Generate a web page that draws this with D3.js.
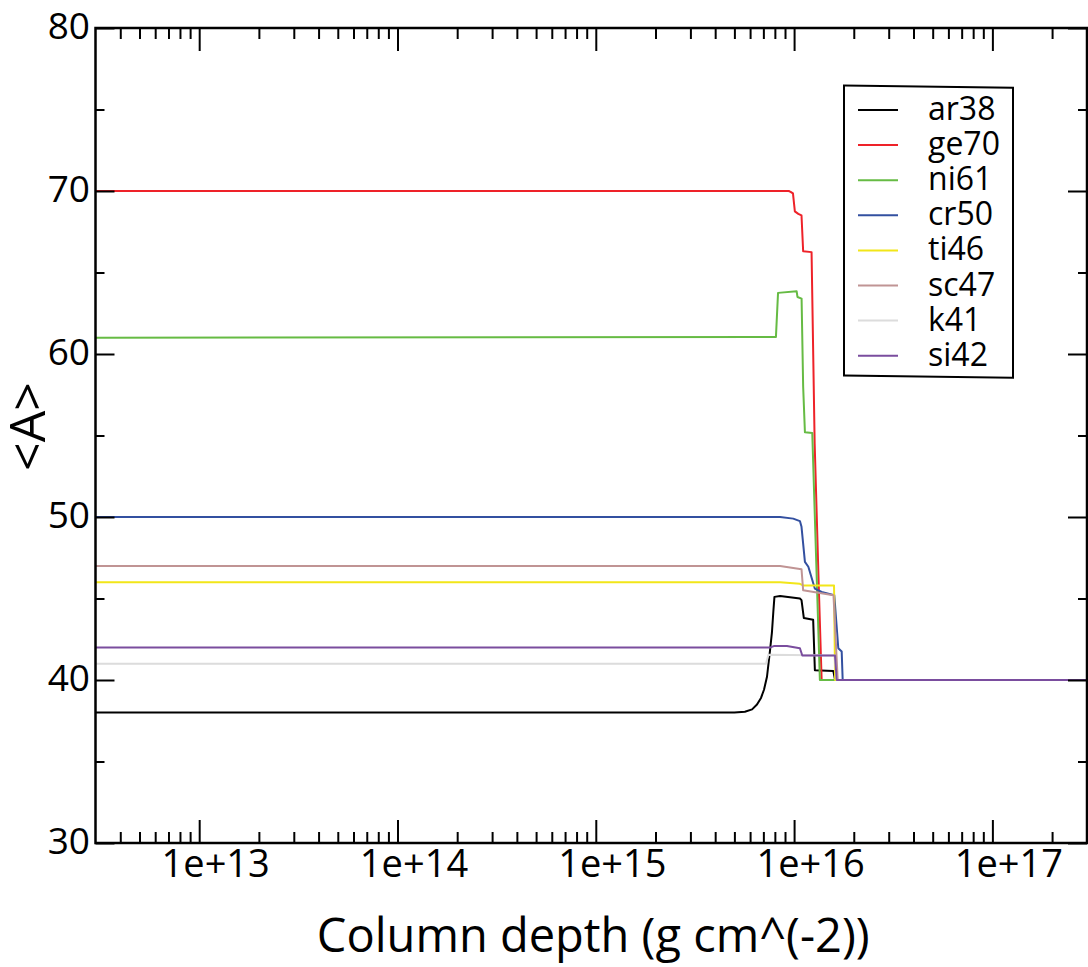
<!DOCTYPE html>
<html>
<head>
<meta charset="utf-8">
<script src="https://cdn.jsdelivr.net/npm/d3@7"></script>
<style>
  html, body { margin: 0; padding: 0; background: #fff; }
  svg { display: block; font-family: "Open Sans", "Noto Sans", sans-serif; }
</style>
</head>
<body>
<svg id="chart" width="1088" height="967"></svg>
<script>
// Mean mass number <A> versus column depth for each seed composition
const species = ["ar38", "ge70", "ni61", "cr50", "ti46", "sc47", "k41", "si42"];
const colors  = ["#000000", "#ee2229", "#66bb44", "#3350a0", "#f2e619", "#c09494", "#dcdcdc", "#7a4d9e"];

// [column depth (g cm^-2), <A>]
const ar38 = [[3e12,38],[5.0e15,38],[5.65e15,38.05],[6.14e15,38.2],[6.5e15,38.5],[6.81e15,38.9],[7.05e15,39.4],[7.3e15,40.2],[7.56e15,41.8],[7.73e15,42.9],[7.86e15,44.2],[7.96e15,45.1],[8.5e15,45.15],[1.07e16,45.0],[1.09e16,44.9],[1.12e16,43.8],[1.248e16,43.7],[1.273e16,40.6],[1.577e16,40.55],[1.61e16,40],[3e17,40]];
const ge70 = [[3e12,70],[9.4e15,70],[9.6e15,69.95],[9.87e15,69.85],[1.009e16,68.75],[1.05e16,68.6],[1.09e16,68.5],[1.111e16,66.3],[1.225e16,66.25],[1.27e16,54.5],[1.33e16,46],[1.377e16,40],[3e17,40]];
const ni61 = [[3e12,61],[8.1e15,61.05],[8.3e15,63.75],[1.03e16,63.85],[1.04e16,63.5],[1.091e16,63.4],[1.111e16,58],[1.134e16,55.2],[1.235e16,55.15],[1.349e16,40],[3e17,40]];
const cr50 = [[3e12,50],[8.5e15,50],[9.9e15,49.9],[1.07e16,49.75],[1.09e16,49.4],[1.134e16,47.25],[1.18e16,46.95],[1.273e16,45.6],[1.377e16,45.4],[1.595e16,45.2],[1.671e16,41.95],[1.738e16,41.75],[1.758e16,40],[3e17,40]];
const ti46 = [[3e12,46],[8.5e15,46],[1.07e16,45.9],[1.11e16,45.8],[1.59e16,45.8],[1.61e16,40],[3e17,40]];
const sc47 = [[3e12,47],[8.5e15,47],[1.09e16,46.8],[1.111e16,45.5],[1.58e16,45.2],[1.66e16,40],[3e17,40]];
const k41  = [[3e12,41],[7.22e15,41],[7.42e15,41.55],[1.6e16,41.5],[1.64e16,40],[3e17,40]];
const si42 = [[3e12,42],[7.6e15,42],[7.9e15,42.08],[9.2e15,42.08],[1.07e16,41.95],[1.1e16,41.5],[1.608e16,41.5],[1.641e16,40],[3e17,40]];
const seriesValues = [ar38, ge70, ni61, cr50, ti46, sc47, k41, si42];

const xMajorTicks = [1e13, 1e14, 1e15, 1e16, 1e17];
const xTickLabels = ["1e+13", "1e+14", "1e+15", "1e+16", "1e+17"];
const yMajorTicks = [30, 40, 50, 60, 70, 80];
const yMinorTicks = [35, 45, 55, 65, 75];
const xTitle = "Column depth (g cm^(-2))";
const yTitle = "<A>";

const svg = d3.select("#chart");
const plot = { left: 95.5, right: 1087, top: 28, bottom: 843 };

const x = d3.scaleLog().domain([3e12, 3e17]).range([plot.left, plot.right]);
const y = d3.scaleLinear().domain([30, 80]).range([plot.bottom, plot.top]);

// minor x ticks: 2..9 within each decade inside the domain
const xMinorTicks = [];
for (let e = 12; e <= 17; e++) {
  for (let m = 2; m <= 9; m++) {
    const v = m * Math.pow(10, e);
    if (v > x.domain()[0] && v < x.domain()[1]) xMinorTicks.push(v);
  }
}

svg.append("clipPath").attr("id", "plot-clip")
  .append("rect")
  .attr("x", plot.left).attr("y", plot.top)
  .attr("width", plot.right - plot.left).attr("height", plot.bottom - plot.top);

// data lines
const line = d3.line().x(d => x(d[0])).y(d => y(d[1]));
svg.append("g").attr("clip-path", "url(#plot-clip)")
  .selectAll("path").data(seriesValues).join("path")
  .attr("d", line)
  .attr("fill", "none")
  .attr("stroke", (d, i) => colors[i])
  .attr("stroke-width", 2)
  .attr("stroke-linejoin", "round");

function styleAxis(g) {
  g.select(".domain").remove();
  g.selectAll(".tick line").attr("stroke", "#000").attr("stroke-width", 2);
}

// bottom axis
svg.append("g").attr("transform", `translate(0,${plot.bottom})`)
  .call(d3.axisBottom(x).tickValues(xMinorTicks).tickSize(-11).tickFormat(""))
  .call(styleAxis);
const xb = svg.append("g").attr("transform", `translate(0,${plot.bottom})`)
  .call(d3.axisBottom(x).tickValues(xMajorTicks).tickSize(-23).tickPadding(7)
    .tickFormat((d, i) => xTickLabels[i]))
  .call(styleAxis);
xb.selectAll(".tick text")
  .attr("font-family", "'Open Sans', sans-serif")
  .attr("font-size", 38)
  .attr("fill", "#000")
  .attr("dx", 16);

// top axis
svg.append("g").attr("transform", `translate(0,${plot.top})`)
  .call(d3.axisTop(x).tickValues(xMinorTicks).tickSize(-11).tickFormat(""))
  .call(styleAxis);
svg.append("g").attr("transform", `translate(0,${plot.top})`)
  .call(d3.axisTop(x).tickValues(xMajorTicks).tickSize(-23).tickFormat(""))
  .call(styleAxis);

// left axis
svg.append("g").attr("transform", `translate(${plot.left},0)`)
  .call(d3.axisLeft(y).tickValues(yMinorTicks).tickSize(-9).tickFormat(""))
  .call(styleAxis);
const yl = svg.append("g").attr("transform", `translate(${plot.left},0)`)
  .call(d3.axisLeft(y).tickValues(yMajorTicks).tickSize(-19).tickPadding(5.5).tickFormat(d3.format("d")))
  .call(styleAxis);
yl.selectAll(".tick text")
  .attr("font-family", "'Open Sans', sans-serif")
  .attr("font-size", 37)
  .attr("fill", "#000")
  .attr("y", -1.6);

// right axis
svg.append("g").attr("transform", `translate(${plot.right},0)`)
  .call(d3.axisRight(y).tickValues(yMinorTicks).tickSize(-9).tickFormat(""))
  .call(styleAxis);
svg.append("g").attr("transform", `translate(${plot.right},0)`)
  .call(d3.axisRight(y).tickValues(yMajorTicks).tickSize(-19).tickFormat(""))
  .call(styleAxis);

// frame
svg.append("rect")
  .attr("x", plot.left).attr("y", plot.top)
  .attr("width", plot.right - plot.left).attr("height", plot.bottom - plot.top)
  .attr("fill", "none").attr("stroke", "#000").attr("stroke-width", 2.5);

// axis titles
svg.append("text")
  .attr("x", (plot.left + plot.right) / 2 + 2).attr("y", 952)
  .attr("text-anchor", "middle")
  .attr("font-size", 47)
  .attr("fill", "#000")
  .text(xTitle);
svg.append("text")
  .attr("transform", "translate(45,426.5) rotate(-90)")
  .attr("text-anchor", "middle")
  .attr("font-size", 50)
  .attr("fill", "#000")
  .text(yTitle);

// legend
const legend = svg.append("g").attr("transform", "translate(844,85.5)");
legend.append("rect")
  .attr("transform", "skewY(0.8)")
  .attr("width", 169).attr("height", 290)
  .attr("fill", "#fff").attr("stroke", "#000").attr("stroke-width", 2);
const rows = legend.selectAll("g.row").data(species).join("g")
  .attr("class", "row")
  .attr("transform", (d, i) => `translate(0,${24.5 + i * 35.1})`);
rows.append("line")
  .attr("x1", 14).attr("x2", 54)
  .attr("stroke", (d, i) => colors[i]).attr("stroke-width", 2);
rows.append("text")
  .attr("x", 84).attr("y", 10)
  .attr("font-size", 32)
  .attr("fill", "#000")
  .text(d => d);
</script>
</body>
</html>
